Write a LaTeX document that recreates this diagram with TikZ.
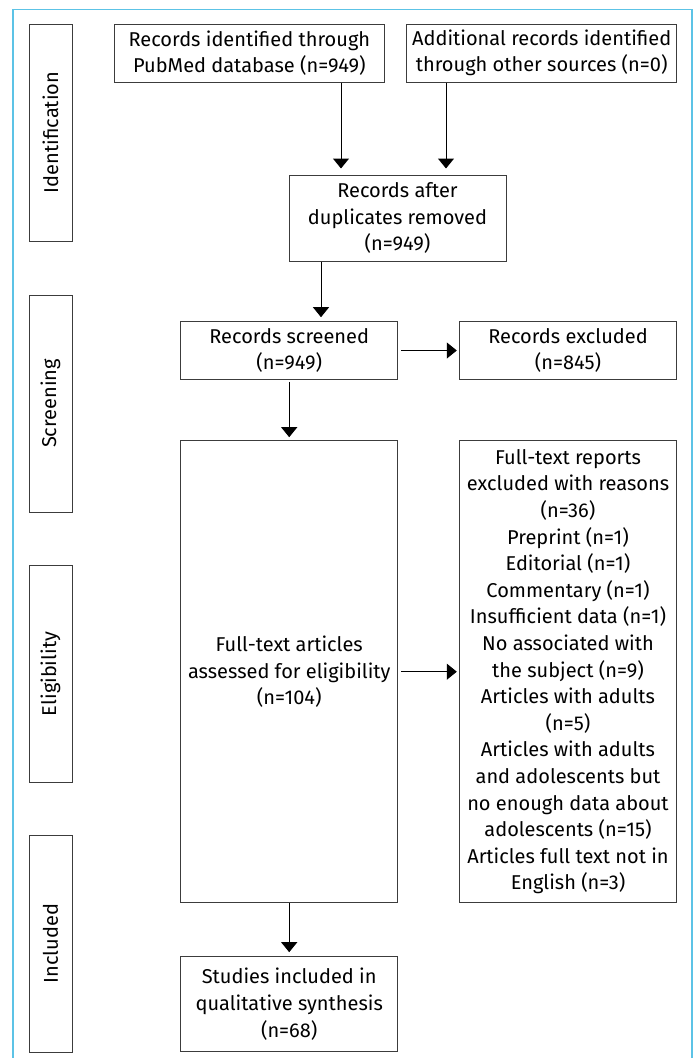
\documentclass[tikz,border=0pt]{standalone}
\usepackage{fontspec}
\setmainfont{Fira Sans}
\usetikzlibrary{arrows.meta,calc}
\definecolor{framecol}{RGB}{92,195,230}
\definecolor{boxcol}{RGB}{60,60,60}
\begin{document}
\begin{tikzpicture}[x=1pt,y=-1pt,
  every node/.style={font=\fontsize{20}{26.6}\selectfont, text=black},
  flowbox/.style={draw=boxcol, line width=1pt, inner sep=0pt, align=center, minimum width=#1},
  flowbox/.default=217pt,
  sidebox/.style={draw=boxcol, line width=1pt, inner sep=0pt, rotate=90, minimum width=217pt, minimum height=43pt},
  arr/.style={draw=black, line width=1pt, -{Triangle[width=16pt,length=10pt]}}
]
\useasboundingbox (0,0) rectangle (696,1058);
\draw[framecol, line width=1.8pt] (13.3,1070) -- (13.3,9.5) -- (692.2,9.5) -- (692.2,1070);

% side labels
\node[sidebox] (sid) at (50.5,132.5) {Identification};
\node[sidebox] (sscr) at (50.5,403.5) {Screening};
\node[sidebox] (selig) at (50.5,674) {Eligibility};
\node[sidebox] (sinc) at (50.5,943.5) {Included};

% flow boxes
\node[flowbox=270.7pt, minimum height=58pt] (pub) at (249.35,53) {Records identified through\\PubMed database (n=949)};
\node[flowbox=270pt, minimum height=58pt] (add) at (541.7,53) {Additional records identified\\through other sources (n=0)};
\node[flowbox, minimum height=86pt] (after) at (397.5,218) {Records after\\duplicates removed\\(n=949)};
\node[flowbox, minimum height=57.6pt] (scr) at (289.2,350.5) {Records screened\\(n=949)};
\node[flowbox=217.4pt, minimum height=57.6pt] (excl) at (568,350.5) {Records excluded\\(n=845)};
\node[flowbox, minimum height=462pt] (full) at (289.2,671.7) {Full-text articles\\assessed for eligibility\\(n=104)};
\node[flowbox=217.4pt, minimum height=462pt] (reas) at (568,671.7) {Full-text reports\\excluded with reasons\\(n=36)\\Preprint (n=1)\\Editorial (n=1)\\Commentary (n=1)\\Insufficient data (n=1)\\No associated with\\the subject (n=9)\\Articles with adults\\(n=5)\\Articles with adults\\and adolescents but\\no enough data about\\adolescents (n=15)\\Articles full text not in\\English (n=3)};
\node[flowbox, minimum height=95pt] (stud) at (289.2,1004.2) {Studies included in\\qualitative synthesis\\(n=68)};

% connectors
\draw[arr, shorten >=6pt] ([xshift=91.65pt]pub.south) -- ([xshift=91.65pt]pub.south |- after.north);
\draw[arr, shorten >=6pt] ([xshift=-95.7pt]add.south) -- ([xshift=-95.7pt]add.south |- after.north);
\draw[arr, shorten >=4pt] ([xshift=-76.5pt]after.south) -- ([xshift=-76.5pt]after.south |- scr.north);
\draw[arr, shorten <=2pt, shorten >=3pt] (scr.south) -- (full.north);
\draw[arr, shorten <=3pt, shorten >=2pt] (scr.east) -- (excl.west);
\draw[arr, shorten <=3pt, shorten >=2pt] (full.east) -- (reas.west);
\draw[arr, shorten >=4pt] (full.south) -- (stud.north);
\end{tikzpicture}
\end{document}
